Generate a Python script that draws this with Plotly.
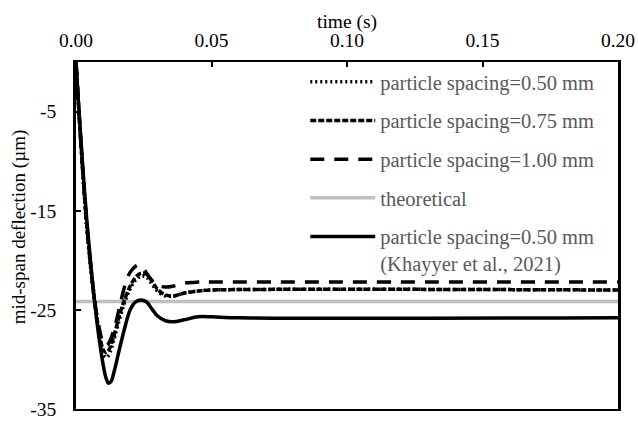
import plotly.graph_objects as go

# ---- data ----
t_050 = [0, 0.002, 0.004, 0.006, 0.008, 0.010, 0.011, 0.012, 0.014, 0.016, 0.018, 0.020,
         0.022, 0.024, 0.026, 0.028, 0.030, 0.033, 0.036, 0.040, 0.045, 0.050, 0.200]
v_050 = [0, -9.0, -16.8, -22.3, -26.6, -29.4, -29.8, -29.6, -28.0, -26.0, -24.2, -22.9,
         -22.0, -21.6, -21.7, -22.4, -23.1, -23.6, -23.6, -23.3, -23.1, -23.0, -23.0]

t_075 = [0, 0.002, 0.004, 0.006, 0.008, 0.010, 0.011, 0.012, 0.014, 0.016, 0.018, 0.020,
         0.022, 0.024, 0.026, 0.028, 0.030, 0.033, 0.036, 0.040, 0.045, 0.050, 0.200]
v_075 = [0, -9.0, -16.5, -22.0, -26.3, -29.0, -29.3, -29.1, -27.6, -25.6, -23.9, -22.6,
         -21.7, -21.3, -21.4, -22.1, -22.9, -23.5, -23.6, -23.3, -23.1, -23.0, -23.0]

t_100 = [0, 0.002, 0.004, 0.006, 0.008, 0.010, 0.011, 0.012, 0.014, 0.016, 0.018, 0.020,
         0.022, 0.023, 0.025, 0.027, 0.030, 0.033, 0.036, 0.040, 0.045, 0.050, 0.200]
v_100 = [0, -9.0, -16.5, -22.0, -26.0, -28.3, -28.6, -28.4, -27.0, -24.8, -22.6, -21.2,
         -20.6, -20.5, -20.9, -21.7, -22.5, -22.7, -22.6, -22.3, -22.2, -22.2, -22.2]

t_khay = [0, 0.001, 0.002, 0.003, 0.004, 0.005, 0.006, 0.007, 0.008, 0.009, 0.010, 0.011,
          0.012, 0.013, 0.014, 0.016, 0.018, 0.020, 0.022, 0.024, 0.026, 0.028, 0.030,
          0.033, 0.036, 0.040, 0.045, 0.050, 0.060, 0.200]
v_khay = [0, -4.5, -8.5, -12.5, -16.0, -19.0, -22.0, -24.5, -26.8, -28.8, -30.5, -31.8,
          -32.4, -32.2, -31.3, -29.0, -26.8, -25.0, -24.2, -24.0, -24.2, -24.9, -25.6,
          -26.1, -26.2, -26.0, -25.7, -25.7, -25.8, -25.8]

t_theory = [0, 0.2]
v_theory = [-24.15, -24.15]

x_ticks = [0.00, 0.05, 0.10, 0.15, 0.20]
x_ticktext = ["0.00", "0.05", "0.10", "0.15", "0.20"]
y_ticks = [-5, -15, -25, -35]
y_ticktext = ["-5", "-15", "-25", "-35"]
x_title = "time (s)"
y_title = "mid-span deflection (µm)"

FONT = "Liberation Serif, Times New Roman, Times, serif"
fig = go.Figure()

fig.add_trace(go.Scatter(x=t_theory, y=v_theory, mode="lines", name="theoretical",
                         line=dict(color="#bfbfbf", width=3.5), legendrank=4, legendgroup="d"))
fig.add_trace(go.Scatter(x=t_050, y=v_050, mode="lines", name="particle spacing=0.50 mm",
                         line=dict(color="black", width=3.5, dash="2px,3px", shape="spline"),
                         legendrank=1, legendgroup="a"))
fig.add_trace(go.Scatter(x=t_075, y=v_075, mode="lines", name="particle spacing=0.75 mm",
                         line=dict(color="black", width=3.5, dash="6px,2px", shape="spline"),
                         legendrank=2, legendgroup="b"))
fig.add_trace(go.Scatter(x=t_100, y=v_100, mode="lines", name="particle spacing=1.00 mm",
                         line=dict(color="black", width=3.5, dash="14px,10px", shape="spline"),
                         legendrank=3, legendgroup="c"))
fig.add_trace(go.Scatter(x=t_khay, y=v_khay, mode="lines",
                         name="particle spacing=0.50 mm<br>(Khayyer et al., 2021)",
                         line=dict(color="black", width=3.5, shape="spline"),
                         legendrank=5, legendgroup="e"))

fig.update_layout(
    width=638, height=421,
    margin=dict(l=76, r=20, t=62, b=12),
    paper_bgcolor="white", plot_bgcolor="white",
    font=dict(family=FONT, size=19.5, color="black"),
    showlegend=True,
    legend=dict(x=0.423, y=1.0, xanchor="left", yanchor="top",
                bgcolor="rgba(0,0,0,0)", font=dict(family=FONT, size=20.5, color="#595959"),
                tracegroupgap=9, valign="top", itemwidth=65),
    xaxis=dict(side="top", range=[0, 0.2], tickvals=x_ticks, ticktext=x_ticktext,
               ticks="inside", ticklen=5, tickwidth=2, tickcolor="black",
               showline=True, linecolor="black", linewidth=2, mirror=True,
               showgrid=False, zeroline=False, automargin=False, ticklabelstandoff=5),
    yaxis=dict(range=[-35, 0], tickvals=y_ticks, ticktext=y_ticktext, ticks="inside",
               ticklen=5, tickwidth=2, tickcolor="black", showline=True, linecolor="black",
               linewidth=2.5, mirror=True, automargin=False,
               showgrid=False, zeroline=False, ticklabelstandoff=13),
    annotations=[
        dict(text=x_title, xref="paper", yref="paper", x=0.5, y=1.114,
             xanchor="center", yanchor="middle", showarrow=False,
             font=dict(family=FONT, size=19.5, color="black")),
        dict(text=y_title, xref="paper", yref="paper", x=-0.1061, y=0.525,
             xanchor="center", yanchor="middle", showarrow=False, textangle=-90,
             font=dict(family=FONT, size=19, color="black")),
    ],
)

fig.write_html("out.html")
